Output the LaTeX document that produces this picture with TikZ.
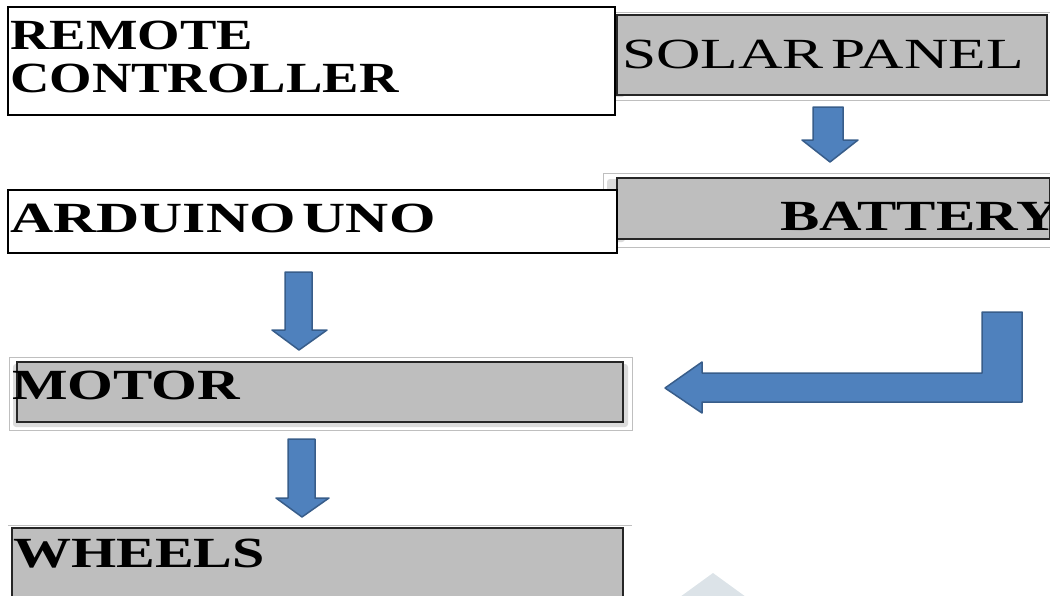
\documentclass[tikz,border=0pt]{standalone}
\usepackage{fontspec}
\setmainfont{Liberation Serif}
\usepackage{graphicx}
\definecolor{boxgray}{RGB}{190,190,190}
\definecolor{arrowfill}{RGB}{79,129,189}
\definecolor{arrowline}{RGB}{56,93,138}
\definecolor{wmark}{RGB}{220,227,232}
\begin{document}
\begin{tikzpicture}[x=1pt,y=-1pt,
  whitebox/.style={draw=black,line width=1.6pt,fill=white,inner sep=0pt,outer sep=0pt,anchor=north west},
  graybox/.style={draw=black!85,line width=1.8pt,fill=boxgray,inner sep=0pt,outer sep=0pt,anchor=north west},
  outerbox/.style={draw=black!25,line width=0.8pt,fill=white,inner sep=0pt,outer sep=0pt,anchor=north west},
  shadowbox/.style={fill=black!14,rounded corners=3pt},
  lbl/.style={anchor=base west,inner sep=0pt,font=\fontsize{43}{43}\selectfont\bfseries},
  lblreg/.style={anchor=base west,inner sep=0pt,font=\fontsize{43}{43}\selectfont},
  blockarrow/.style={fill=arrowfill,draw=arrowline,line width=1.5pt,line join=round}]
\useasboundingbox (0,0) rectangle (1050,595);
% watermark
\fill[wmark] (713,573) -- (680,597) -- (746,597) -- cycle;
% right column
\node[outerbox,minimum width=448pt,minimum height=88pt] (solarout) at (602,12) {};
\fill[shadowbox] (607,17) rectangle (625,97);
\node[graybox,minimum width=430pt,minimum height=80pt] (solar) at (617,15) {};
\node[outerbox,minimum width=448pt,minimum height=74pt] (batteryout) at (603,173) {};
\fill[shadowbox] (607,179) rectangle (625,242);
\node[graybox,minimum width=433pt,minimum height=61pt] (battery) at (617,178) {};
% left column
\node[whitebox,minimum width=607pt,minimum height=108pt] (remote) at (8,7) {};
\node[whitebox,minimum width=609pt,minimum height=63pt] (arduino) at (8,190) {};
\node[outerbox,minimum width=623pt,minimum height=73pt] (motorout) at (9,357) {};
\fill[shadowbox] (13,364) rectangle (628,427);
\node[graybox,minimum width=606pt,minimum height=60pt] (motor) at (17,362) {};
\draw[draw=black!25,line width=0.8pt] (8,525) coordinate (wtl) -- (632,525) coordinate (wtr);
\node[graybox,minimum width=611pt,minimum height=80pt] (wheels) at (12,528) {};
% labels
\node[lbl] (tremote) at (10,49) {\scalebox{1.27}[1]{REMOTE}};
\node[lbl] (tcontroller) at (10,92) {\scalebox{1.27}[1]{CONTROLLER}};
\node[lblreg] (tsolar) at (622,68) {\scalebox{1.43}[1]{SOLAR\hspace{0.12em}PANEL}};
\node[lbl] (tbattery) at (780,230) {\scalebox{1.37}[1]{BATTERY}};
\node[lbl] (tarduino) at (10,232) {\scalebox{1.39}[1]{ARDUINO\hspace{0.12em}UNO}};
\node[lbl] (tmotor) at (12,399) {\scalebox{1.37}[1]{MOTOR}};
\node[lbl] (twheels) at (13,567) {\scalebox{1.35}[1]{WHEELS}};
% block arrows
\draw[blockarrow] (813,107) -- (843,107) -- (843,140) -- (858,140) -- (830,162) -- (802,140) -- (813,140) -- cycle;
\draw[blockarrow] (285,272) -- (312,272) -- (312,330) -- (327,330) -- (299,350) -- (272,330) -- (285,330) -- cycle;
\draw[blockarrow] (288,439) -- (315,439) -- (315,498) -- (329,498) -- (302,517) -- (276,498) -- (288,498) -- cycle;
\draw[blockarrow] (1022,312) -- (982,312) -- (982,373) -- (702,373) -- (702,362) -- (665,388) -- (702,413) -- (702,402) -- (1022,402) -- cycle;
\end{tikzpicture}
\end{document}
